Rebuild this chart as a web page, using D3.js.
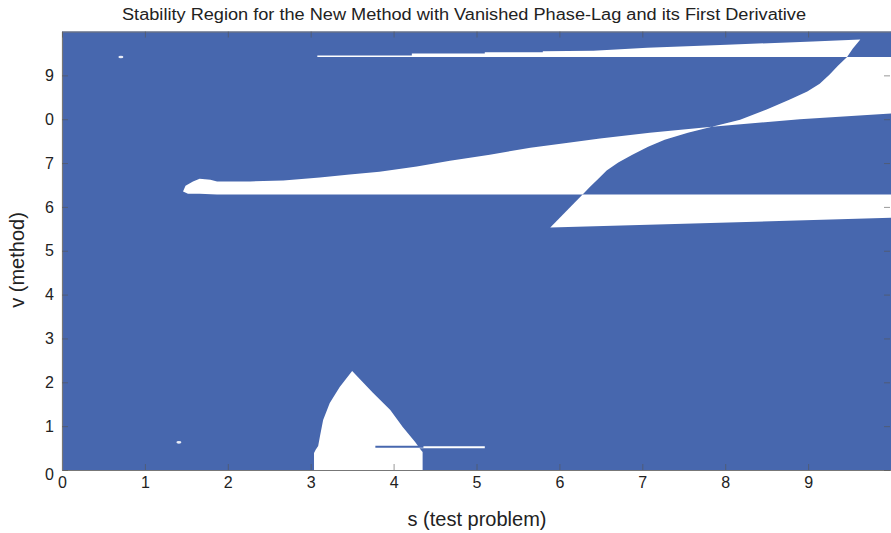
<!DOCTYPE html>
<html>
<head>
<meta charset="utf-8">
<script src="https://cdn.jsdelivr.net/npm/d3@7"></script>
<style>
  body { margin: 0; background: #fff; }
  text { font-family: "Liberation Sans", Arial, sans-serif; fill: #222; }
</style>
</head>
<body>
<div id="chart"></div>
<script>
// tick values and labels (the "8" label reads as "0" in the source figure)
var xTicks = [0, 1, 2, 3, 4, 5, 6, 7, 8, 9];
var yTicks = [0, 1, 2, 3, 4, 5, 6, 7, 8, 9];
var yTickLabels = ["0", "1", "2", "3", "4", "5", "6", "7", "0", "9"];

// unstable (white) regions, as [s, v] pairs
var midBand = [[1.46,6.35],[1.49,6.48],[1.58,6.58],[1.66,6.64],[1.79,6.62],[1.87,6.58],[2.27,6.58],
  [2.67,6.60],[3.11,6.67],[3.47,6.74],[3.83,6.80],[4.28,6.92],[4.68,7.05],[5.16,7.19],[5.65,7.35],
  [6.13,7.47],[6.49,7.56],[7.09,7.69],[7.84,7.83],
  [7.55,7.69],[7.27,7.53],[7.07,7.37],[6.88,7.19],[6.71,7.01],[6.57,6.83],[6.47,6.64],[6.37,6.46],
  [6.28,6.28],[1.87,6.28],[1.66,6.30],[1.52,6.30]];
var lowBand = [[5.89,5.53],[6.28,6.28],[10,6.28],[10,5.75]];
var upperRight = [[7.84,7.83],[8.18,7.99],[8.50,8.22],[8.78,8.45],[8.99,8.63],[9.14,8.81],[9.26,9.02],
  [9.36,9.22],[9.47,9.42],[10,9.42],[10,8.13],[8.90,8.00]];
var topBand = [[3.08,9.42],[9.47,9.42],[9.54,9.61],[9.63,9.82],[9.06,9.77],[8.02,9.70],[7.06,9.63],[6.41,9.56],
  [5.80,9.55],[5.80,9.525],[5.10,9.525],[5.10,9.50],[4.22,9.50],[4.22,9.455],[3.08,9.455]];
var bottomShape = [[3.04,0],[3.04,0.39],[3.06,0.46],[3.09,0.55],[3.11,0.75],[3.15,1.14],[3.23,1.53],
  [3.35,1.89],[3.50,2.26],[3.75,1.76],[3.96,1.37],[4.11,0.98],[4.26,0.64],[4.32,0.48],[4.35,0.41],[4.35,0]];
var whiteSlit = [[4.30,0.52],[5.10,0.52]];
var blueSlit = [[3.78,0.53],[4.36,0.53]];
var specks = [[0.71,9.42],[1.41,0.63]];

var svgWidth = 891;
var svgHeight = 533;
var margin = { top: 31.5, right: 0, bottom: 63, left: 62 };
var width = svgWidth - margin.left - margin.right;
var height = svgHeight - margin.top - margin.bottom;
var blue = "#4767ae";

var svg = d3.select("#chart")
  .append("svg")
  .attr("width", svgWidth)
  .attr("height", svgHeight);

var chartGroup = svg.append("g")
  .attr("transform", `translate(${margin.left}, ${margin.top})`);

var xScale = d3.scaleLinear().domain([0, 10]).range([0, width]);
var yScale = d3.scaleLinear().domain([0, 10]).range([height, 0]);

var line = d3.line()
  .x(d => xScale(d[0]))
  .y(d => yScale(d[1]));

// stable region fills the whole plot
chartGroup.append("rect")
  .attr("x", xScale(0))
  .attr("y", yScale(10))
  .attr("width", xScale(10) - xScale(0))
  .attr("height", yScale(0) - yScale(10))
  .attr("fill", blue);

// white unstable regions
chartGroup.selectAll("path.hole")
  .data([midBand, lowBand, upperRight, topBand, bottomShape])
  .enter()
  .append("path")
  .attr("class", "hole")
  .attr("d", d => line(d) + "Z")
  .attr("fill", "#fff");

chartGroup.append("path")
  .attr("d", line(whiteSlit))
  .attr("stroke", "#fff")
  .attr("stroke-width", 2)
  .attr("fill", "none");

chartGroup.append("path")
  .attr("d", line(blueSlit))
  .attr("stroke", blue)
  .attr("stroke-width", 2)
  .attr("fill", "none");

chartGroup.selectAll("ellipse.speck")
  .data(specks)
  .enter()
  .append("ellipse")
  .attr("class", "speck")
  .attr("cx", d => xScale(d[0]))
  .attr("cy", d => yScale(d[1]))
  .attr("rx", 2.5)
  .attr("ry", 1.3)
  .attr("fill", "#e8ecf6");

// axes, MATLAB style ticks pointing inward
var bottomAxis = d3.axisBottom(xScale).tickValues(xTicks).tickSizeInner(-6).tickSizeOuter(0).tickPadding(7);
var leftAxis = d3.axisLeft(yScale).tickValues(yTicks).tickSizeInner(-6).tickSizeOuter(0).tickPadding(8)
  .tickFormat((d, i) => yTickLabels[i]);
var topAxis = d3.axisTop(xScale).tickValues(xTicks).tickSizeInner(-6).tickSizeOuter(0).tickFormat("");
var rightAxis = d3.axisRight(yScale).tickValues(yTicks).tickSizeInner(-6).tickSizeOuter(0).tickFormat("");

var gx = chartGroup.append("g")
  .attr("transform", `translate(0, ${height})`)
  .call(bottomAxis);
var gy = chartGroup.append("g").call(leftAxis);
var gt = chartGroup.append("g").call(topAxis);
var gr = chartGroup.append("g").attr("transform", `translate(${width - 1}, 0)`).call(rightAxis);

[gx, gy, gt, gr].forEach(function(g) {
  g.select(".domain").attr("stroke", "#777").attr("stroke-width", 1.2);
  g.selectAll(".tick line").attr("stroke", "#555").attr("stroke-opacity", 0.6);
  g.selectAll("text").attr("font-size", 16).attr("fill", "#222");
});
gr.select(".domain").attr("stroke", "none");
gy.selectAll(".tick text").filter(d => d === 0).attr("dy", "0.62em");

// title and axis labels
svg.append("text")
  .attr("x", 464)
  .attr("y", 20)
  .attr("text-anchor", "middle")
  .attr("font-size", 16)
  .attr("textLength", 684)
  .attr("lengthAdjust", "spacingAndGlyphs")
  .text("Stability Region for the New Method with Vanished Phase-Lag and its First Derivative");

svg.append("text")
  .attr("x", 477)
  .attr("y", 526)
  .attr("text-anchor", "middle")
  .attr("font-size", 20)
  .text("s (test problem)");

svg.append("text")
  .attr("transform", "rotate(-90)")
  .attr("x", -260)
  .attr("y", 24)
  .attr("text-anchor", "middle")
  .attr("font-size", 20)
  .text("v (method)");
</script>
</body>
</html>
